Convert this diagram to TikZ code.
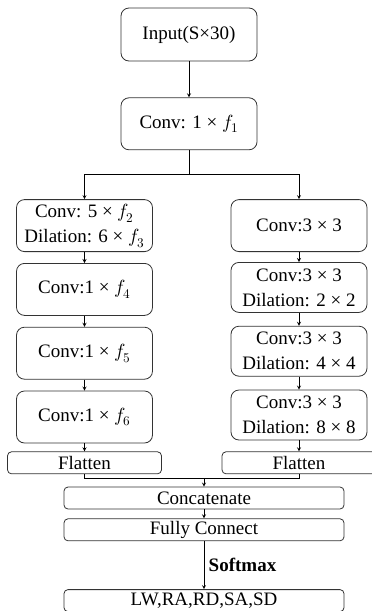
\documentclass[tikz,border=0pt]{standalone}
\usepackage{fontspec}
\setmainfont{Liberation Serif}
\usepackage{unicode-math}
\usepackage{tikz}
\usetikzlibrary{arrows, positioning}

\begin{document}
\begin{tikzpicture}[>=stealth, line width=0.8pt, every node/.style={font=\fontsize{19}{25}\selectfont}]
    \tikzset{
        block/.style={rectangle, draw=black!80, rounded corners=8pt, minimum height=52pt, minimum width=136pt, align=center, inner sep=2pt},
        flat/.style={rectangle, draw=black!80, rounded corners=4pt, minimum height=22pt, minimum width=154pt, inner sep=0pt},
        wide/.style={flat, minimum width=280pt},
        line/.style={draw, ->}
    }
    \useasboundingbox (0,0) rectangle (372pt,-611pt);

    \node (Input) [block, minimum height=53pt] at (189pt,-34.5pt) {Input(S×30)};
    \node (Conv1) [block, below=36pt of Input] {Conv: 1 × $f_1$};
    \coordinate [below=24pt of Conv1.south] (Split);

    % left branch
    \node (L1) [block, below=25pt of Split, xshift=-104.5pt] {Conv: 5 × $f_2$\\Dilation: 6 × $f_3$};
    \node (L2) [block, below=11pt of L1] {Conv:1 × $f_4$};
    \node (L3) [block, below=11pt of L2] {Conv:1 × $f_5$};
    \node (L4) [block, below=11pt of L3] {Conv:1 × $f_6$};
    \node (FlatL) [flat, below=8pt of L4] {Flatten};

    % right branch
    \node (R1) [block, below=25pt of Split, xshift=110pt] {Conv:3 × 3};
    \node (R2) [block, minimum height=50pt, below=10pt of R1] {Conv:3 × 3\\Dilation: 2 × 2};
    \node (R3) [block, minimum height=50pt, below=13pt of R2] {Conv:3 × 3\\Dilation: 4 × 4};
    \node (R4) [block, minimum height=50pt, below=13pt of R3] {Conv:3 × 3\\Dilation: 8 × 8};
    \node (FlatR) [flat, below=11pt of R4] {Flatten};

    \node (Concat) [wide] at (204pt,-498pt) {Concatenate};
    \coordinate [above=8pt of Concat.north] (Join);
    \node (FC) [wide, below=9pt of Concat] {Fully Connect};
    \node (Out) [wide, below=48pt of FC] {LW,RA,RD,SA,SD};

    \path [line] (Input) -- (Conv1);
    \draw (Conv1) -- (Split);
    \path [line] (Split) -| (L1);
    \path [line] (Split) -| (R1);

    \path [line] (L1) -- (L2);
    \path [line] (L2) -- (L3);
    \path [line] (L3) -- (L4);
    \path [line] (L4) -- (FlatL);

    \path [line] (R1) -- (R2);
    \path [line] (R2) -- (R3);
    \path [line] (R3) -- (R4);
    \path [line] (R4) -- (FlatR);

    \draw (FlatL.south) |- (Join);
    \draw (FlatR.south) |- (Join);
    \path [line] (Join) -- (Concat);
    \path [line] (Concat) -- (FC);
    \path [line] (FC) -- node [right, xshift=1pt, font=\fontsize{19}{25}\selectfont\bfseries] {Softmax} (Out);

\end{tikzpicture}
\end{document}
